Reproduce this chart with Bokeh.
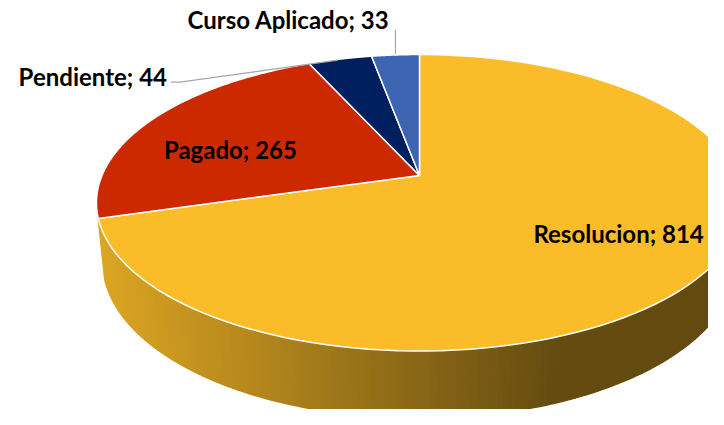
import numpy as np
from bokeh.plotting import figure
from bokeh.models import Range1d
from bokeh.embed import file_html
from bokeh.resources import INLINE
from bokeh.core.properties import value

# ---- data ----
categories = ["Resolucion", "Pagado", "Pendiente", "Curso Aplicado"]
counts = [814, 265, 44, 33]
colors = ["#FABC29", "#CC2900", "#001F5F", "#3D65B2"]

# ---- layout / style ----
W, H = 708, 409
p = figure(width=W, height=H, output_backend="svg", toolbar_location=None,
           x_range=Range1d(0, W), y_range=Range1d(H, 0), min_border=0)
p.axis.visible = False
p.grid.visible = False
p.outline_line_color = None
p.background_fill_color = "white"

CX, CY = 419, 175
F = 1540.0
D = 4.85
TH = np.arcsin(0.451)
DEPTH = 0.21


def proj(u, v, h):
    z = D + v * np.cos(TH) - h * np.sin(TH)
    x = CX + F * u / z
    y = CY - F * (v * np.sin(TH) + h * np.cos(TH)) / z
    return x, y


def hex2rgb(c):
    c = c.lstrip("#")
    return np.array([int(c[i:i + 2], 16) for i in (0, 2, 4)], dtype=float)


def rgb2hex(a):
    a = np.clip(a, 0, 255).astype(int)
    return "#%02x%02x%02x" % tuple(a)


total = float(sum(counts))
bounds = np.concatenate([[0.0], np.cumsum(counts) / total * 2 * np.pi])

# side (rim) strips
rim_xs, rim_ys, rim_cols = [], [], []
for i, col in enumerate(colors):
    a0, a1 = bounds[i], bounds[i + 1]
    n = max(2, int(np.degrees(a1 - a0) / 1.0) + 1)
    ang = np.linspace(a0, a1, n)
    base = hex2rgb(col)
    light, dark = base * 0.88, base * 0.40
    for k in range(n - 1):
        p1, p2 = ang[k], ang[k + 1]
        u1, v1 = np.sin(p1), np.cos(p1)
        u2, v2 = np.sin(p2), np.cos(p2)
        if v1 > -0.286 and v2 > -0.286:
            continue
        xa, ya = proj(u1, v1, 0)
        xb, yb = proj(u2, v2, 0)
        xc, yc = proj(u2, v2, -DEPTH)
        xd, yd = proj(u1, v1, -DEPTH)
        xm = (xa + xb) / 2
        t = np.clip((xm - 100) / (560 - 100), 0, 1)
        c = light * (1 - t) + dark * t
        rim_xs.append([xa, xb, xc, xd])
        rim_ys.append([ya, yb, yc, yd])
        rim_cols.append(rgb2hex(c))

p.patches(rim_xs, rim_ys, fill_color=rim_cols, line_color=rim_cols, line_width=1.5)

# top face
top_xs, top_ys = [], []
for i in range(len(counts)):
    ang = np.linspace(bounds[i], bounds[i + 1], 120)
    xs, ys = proj(np.sin(ang), np.cos(ang), 0)
    cx0, cy0 = proj(0, 0, 0)
    top_xs.append([cx0] + list(xs))
    top_ys.append([cy0] + list(ys))
p.patches(top_xs, top_ys, fill_color=colors, line_color="white", line_width=1.5)

# labels
mids = (bounds[:-1] + bounds[1:]) / 2
label_text = ["%s; %d" % (c, v) for c, v in zip(categories, counts)]
font = value("Lato")
FS = "24px"

# inside labels
inside = [(0, 0.66, 18, -3), (1, 0.66, -8, 12)]
for idx, r, dx, dy in inside:
    x, y = proj(r * np.sin(mids[idx]), r * np.cos(mids[idx]), 0)
    p.text([x + dx], [y + dy], text=[label_text[idx]], text_font=font,
           text_font_style="bold", text_font_size=FS, text_color="black",
           text_align="center", text_baseline="middle")

# outside labels with leader lines
x2, y2 = proj(np.sin(mids[2]), np.cos(mids[2]), 0)
p.line([x2 - 2, x2 - 160, x2 - 169], [y2 + 1, y2 + 23, y2 + 23], line_color="#A6A6A6", line_width=1.2)
p.text([x2 - 173], [y2 + 17], text=[label_text[2]], text_font=font,
       text_font_style="bold", text_font_size=FS, text_color="black",
       text_align="right", text_baseline="middle")

x3, y3 = proj(np.sin(mids[3]), np.cos(mids[3]), 0)
p.line([x3, x3], [y3 - 1, y3 - 25], line_color="#A6A6A6", line_width=1.2)
p.text([x3 - 107], [y3 - 35], text=[label_text[3]], text_font=font,
       text_font_style="bold", text_font_size=FS, text_color="black",
       text_align="center", text_baseline="middle")

open("out.html", "w").write(file_html(p, INLINE))
